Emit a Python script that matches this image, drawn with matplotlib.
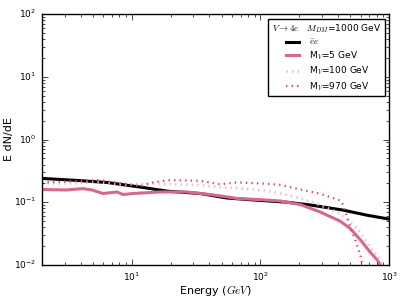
import matplotlib
matplotlib.use("Agg")
import matplotlib.pyplot as plt

# energies (GeV) and E dN/dE values
e_ee = [2, 3.5, 6.4, 11.6, 19, 34, 55, 100, 164, 250, 440, 680, 1000]
y_ee = [0.24, 0.225, 0.207, 0.175, 0.15, 0.138, 0.117, 0.107, 0.1, 0.09, 0.075, 0.062, 0.054]

e_m5 = [2, 3.07, 4.17, 4.9, 5.97, 7.67, 8.54, 10.2, 16.6, 26.7, 40.6, 55, 66,
        100, 142, 204, 291, 417, 500, 600, 713, 810, 854]
y_m5 = [0.16, 0.157, 0.165, 0.157, 0.138, 0.146, 0.133, 0.138, 0.146, 0.146, 0.133, 0.122, 0.115,
        0.11, 0.105, 0.092, 0.07, 0.05, 0.038, 0.025, 0.016, 0.012, 0.01]

e_m100 = [2, 3.5, 5.6, 8.5, 13.8, 34, 48, 73, 100, 142, 204, 291, 417,
          500, 550, 600, 653, 713, 810, 900]
y_m100 = [0.2, 0.2, 0.21, 0.19, 0.2, 0.187, 0.175, 0.165, 0.155, 0.141, 0.115, 0.09, 0.066,
          0.048, 0.04, 0.033, 0.025, 0.019, 0.014, 0.01]

e_m970 = [2, 3.5, 5.6, 8.5, 11.6, 14.6, 19, 34, 48.5, 66, 100, 142, 204, 291,
          417, 440, 500, 546, 600, 618]
y_m970 = [0.207, 0.217, 0.225, 0.2, 0.18, 0.207, 0.225, 0.22, 0.194, 0.207, 0.2, 0.19, 0.16, 0.137,
          0.107, 0.09, 0.04, 0.025, 0.014, 0.01]

plt.style.use("classic")
fig = plt.figure(figsize=(4.07, 3.05), dpi=100)
ax = fig.add_axes([0.103, 0.131, 0.853, 0.823])

ax.plot(e_ee, y_ee, color="black", lw=2.2, label=r"$\bar{e}e$")
ax.plot(e_m5, y_m5, color="#d6688f", lw=2.2, label=r"M$_V$=5 GeV")
ax.plot(e_m100, y_m100, color="#f4b8cb", lw=2.0, ls=":", label=r"M$_V$=100 GeV")
ax.plot(e_m970, y_m970, color="#e2406e", lw=1.6, ls=":", label=r"M$_V$=970 GeV")

ax.set_xscale("log")
ax.set_yscale("log")
ax.set_xlim(2, 1000)
ax.set_ylim(1e-2, 1e2)
ax.tick_params(labelsize=6.5)
ax.set_xlabel(r"Energy ($GeV$)", fontsize=8)
ax.set_ylabel("E dN/dE", fontsize=8)
ax.xaxis.set_label_coords(0.5, -0.07)
ax.yaxis.set_label_coords(-0.08, 0.5)

leg = ax.legend(loc="upper right", fontsize=6.5, title=r"$V\to 4e$   $M_{DM}$=1000 GeV",
                frameon=True, fancybox=False, handlelength=2.0, borderpad=0.4, labelspacing=0.3)
leg.get_title().set_fontsize(6.5)

fig.savefig("out.png", dpi=100)
